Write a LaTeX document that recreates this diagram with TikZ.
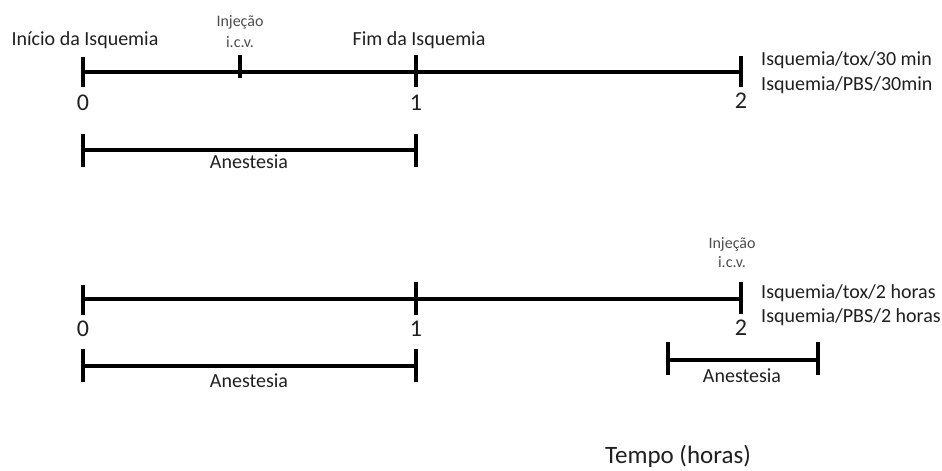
\documentclass[tikz,border=0pt]{standalone}
\usepackage{fontspec}
\setmainfont{Carlito}
\begin{document}
\begin{tikzpicture}[x=1pt,y=-1pt,
  bar/.style={line width=3.4pt,black},
  lbl/.style={inner sep=0pt,anchor=base,text=black!88},
  big/.style={lbl,font=\fontsize{20}{24}\selectfont},
  num/.style={lbl,font=\fontsize{24}{28}\selectfont},
  anes/.style={lbl,font=\fontsize{20}{24}\selectfont},
  small/.style={lbl,font=\fontsize{16}{19}\selectfont,text=black!70},
  side/.style={lbl,anchor=base west,font=\fontsize{20}{24}\selectfont}]
\useasboundingbox (0,0) rectangle (942,471);
% ---------- top timeline ----------
\coordinate (t0) at (83,72);
\coordinate (ti) at (240,72);
\coordinate (t1) at (416,72);
\coordinate (t2) at (741,72);
\draw[bar] (t0) -- (t2);
\draw[bar] ([yshift=-15]t0) -- ([yshift=15]t0);
\draw[bar] ([yshift=-6]ti) -- ([yshift=17]ti);
\draw[bar] ([yshift=-15]t1) -- ([yshift=17]t1);
\draw[bar] ([yshift=-15]t2) -- ([yshift=16]t2);
\node[big] (inicio) at (85,45) {Início da Isquemia};
\node[big] (fim) at (419,45) {Fim da Isquemia};
\node[small] (inj1) at (240,27) {Injeção};
\node[small] (icv1) at (240,47) {i.c.v.};
\node[num] (n0a) at (83,110) {0};
\node[num] (n1a) at (416,110) {1};
\node[num] (n2a) at (741,108) {2};
\node[side] (tox30) at (761,65) {Isquemia/tox/30 min};
\node[side] (pbs30) at (761,90) {Isquemia/PBS/30min};
% top anesthesia
\coordinate (a0) at (83,150);
\coordinate (a1) at (416,150);
\draw[bar] (a0) -- (a1);
\draw[bar] ([yshift=-17]a0) -- ([yshift=16]a0);
\draw[bar] ([yshift=-17]a1) -- ([yshift=16]a1);
\node[anes] (an1) at (249,168) {Anestesia};
% ---------- bottom timeline ----------
\coordinate (b0) at (83,299);
\coordinate (b1) at (416,299);
\coordinate (b2) at (741,299);
\draw[bar] (b0) -- (b2);
\draw[bar] ([yshift=-16]b0) -- ([yshift=14]b0);
\draw[bar] ([yshift=-16]b1) -- ([yshift=17]b1);
\draw[bar] ([yshift=-15]b2) -- ([yshift=17]b2);
\node[small] (inj2) at (732,248) {Injeção};
\node[small] (icv2) at (732,267) {i.c.v.};
\node[num] (n0b) at (83,336) {0};
\node[num] (n1b) at (416,336) {1};
\node[num] (n2b) at (741,335) {2};
\node[side] (tox2) at (761,298) {Isquemia/tox/2 horas};
\node[side] (pbs2) at (761,322) {Isquemia/PBS/2 horas};
% bottom anesthesia left
\coordinate (c0) at (83,366);
\coordinate (c1) at (416,366);
\draw[bar] (c0) -- (c1);
\draw[bar] ([yshift=-16]c0) -- ([yshift=17]c0);
\draw[bar] ([yshift=-16]c1) -- ([yshift=17]c1);
\node[anes] (an2) at (249,387) {Anestesia};
% bottom anesthesia right
\coordinate (d0) at (668,360);
\coordinate (d1) at (818,360);
\draw[bar] (d0) -- (d1);
\draw[bar] ([yshift=-15]d0) -- ([yshift=18]d0);
\draw[bar] ([yshift=-15]d1) -- ([yshift=18]d1);
\node[anes] (an3) at (742,382) {Anestesia};
% axis title
\node[lbl,font=\fontsize{25}{30}\selectfont] (tempo) at (678,463) {Tempo (horas)};
\end{tikzpicture}
\end{document}
